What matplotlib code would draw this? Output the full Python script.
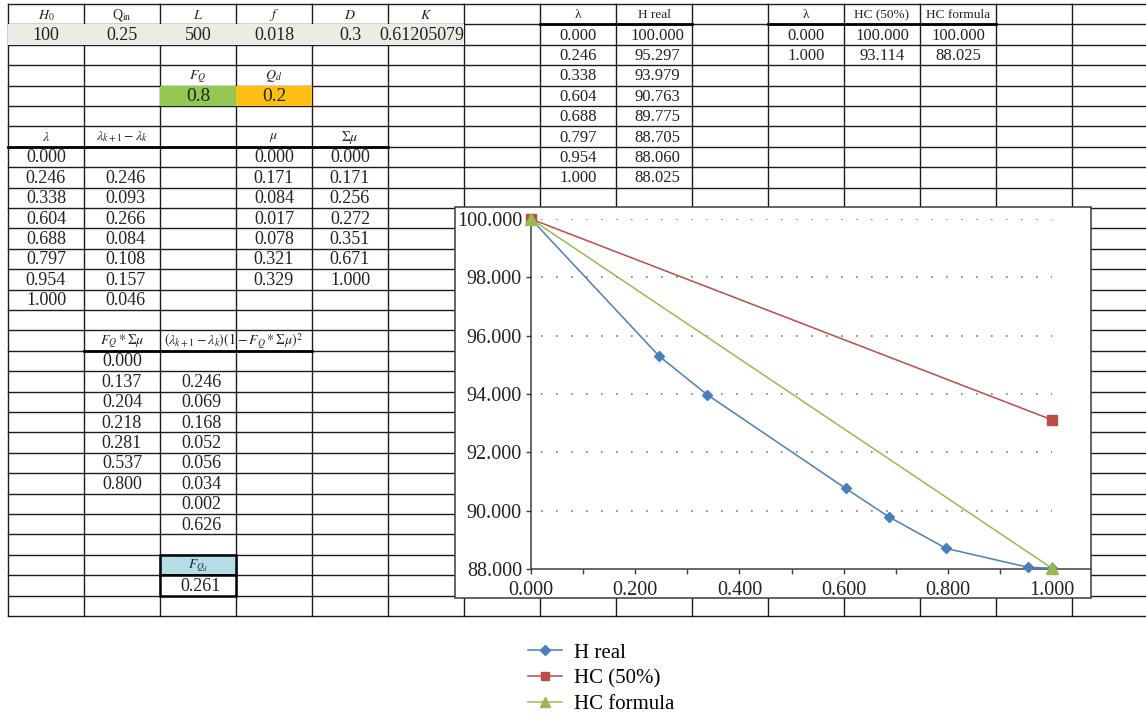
import matplotlib

matplotlib.use("Agg")
import matplotlib.pyplot as plt
from matplotlib.patches import Rectangle

plt.rcParams["font.family"] = ["Liberation Serif", "DejaVu Serif"]
plt.rcParams["mathtext.fontset"] = "stix"

# input parameters
param_names = [r"$H_0$", r"Q$_{\mathrm{in}}$", r"$L$", r"$f$", r"$D$", r"$K$"]
param_values = ["100", "0.25", "500", "0.018", "0.3", "0.61205079"]
f_q = 0.8
q_d = 0.2

# sheet columns
lam = [0.000, 0.246, 0.338, 0.604, 0.688, 0.797, 0.954, 1.000]
d_lam = [0.246, 0.093, 0.266, 0.084, 0.108, 0.157, 0.046]
mu = [0.000, 0.171, 0.084, 0.017, 0.078, 0.321, 0.329]
sum_mu = [0.000, 0.171, 0.256, 0.272, 0.351, 0.671, 1.000]
fq_sum_mu = [0.000, 0.137, 0.204, 0.218, 0.281, 0.537, 0.800]
term = [0.246, 0.069, 0.168, 0.052, 0.056, 0.034, 0.002]
term_total = 0.626
f_qd = 0.261

# chart series
h_real = [100.000, 95.297, 93.979, 90.763, 89.775, 88.705, 88.060, 88.025]
lam_hc = [0.000, 1.000]
hc_50 = [100.000, 93.114]
hc_formula = [100.000, 88.025]

W, H = 1146, 717
TOP, ROW_H = 4.0, 20.4
LEFT, COL_W = 8.0, 76.0
N_ROWS, N_COLS = 30, 15
LINE = "#1c1c1c"

fig = plt.figure(figsize=(W / 100, H / 100), dpi=100)
sheet = fig.add_axes([0, 0, 1, 1])
sheet.set_xlim(0, W)
sheet.set_ylim(H, 0)
sheet.axis("off")


def rx(c):
    return LEFT + COL_W * c


def ry(r):
    return TOP + ROW_H * r


def cell_text(c, r, s, size=13, dx=0, ha="center", **kw):
    sheet.text(rx(c) + COL_W / 2 + dx, ry(r) + ROW_H / 2 + 1, s, fontsize=size,
               ha=ha, va="center", color="#222222", zorder=4, **kw)


def fill_cell(c, r, color, ncols=1, ec="none", lw=0):
    sheet.add_patch(Rectangle((rx(c), ry(r)), COL_W * ncols, ROW_H, facecolor=color,
                              edgecolor=ec, linewidth=lw, zorder=3))


# grid
bottom = ry(N_ROWS)
for k in range(N_ROWS + 1):
    sheet.plot([LEFT, W], [ry(k), ry(k)], color=LINE, lw=1.0, zorder=2)
for j in range(N_COLS + 1):
    sheet.plot([rx(j), rx(j)], [TOP, bottom], color=LINE, lw=1.0, zorder=2)

# heavier rules under the headers
for c0, c1, k in [(0, 5, 7), (7, 9, 1), (10, 13, 1), (1, 4, 17)]:
    sheet.plot([rx(c0), rx(c1)], [ry(k), ry(k)], color="#000000", lw=2.0, zorder=2.5)

# parameter block
fill_cell(0, 1, "#edebe3", ncols=6)
for i, (name, val) in enumerate(zip(param_names, param_values)):
    cell_text(i, 0, name, size=10)
    cell_text(i, 1, val, size=13, dx=-4 if i == 5 else 0)

cell_text(2, 3, r"$F_Q$", size=10)
cell_text(3, 3, r"$Q_d$", size=10)
fill_cell(2, 4, "#92c851")
fill_cell(3, 4, "#fdbf11")
cell_text(2, 4, f"{f_q:g}", size=14)
cell_text(3, 4, f"{q_d:g}", size=14)

# lambda / mu block
cell_text(0, 6, r"$\lambda$", size=10)
cell_text(1, 6, r"$\lambda_{k+1} - \lambda_k$", size=10)
cell_text(3, 6, r"$\mu$", size=10)
cell_text(4, 6, r"$\Sigma\mu$", size=10)
for i, v in enumerate(lam):
    cell_text(0, 7 + i, f"{v:.3f}")
for i, v in enumerate(d_lam):
    cell_text(1, 8 + i, f"{v:.3f}", dx=3)
for i, v in enumerate(mu):
    cell_text(3, 7 + i, f"{v:.3f}")
for i, v in enumerate(sum_mu):
    cell_text(4, 7 + i, f"{v:.3f}")

# F_Q * sum(mu) block
cell_text(1, 16, r"$F_Q * \Sigma\mu$", size=10)
sheet.text(rx(2) + 4, ry(16) + ROW_H / 2 + 1,
           r"$(\lambda_{k+1} - \lambda_k)(1 - F_Q * \Sigma\mu)^2$",
           fontsize=10, ha="left", va="center", color="#222222", zorder=4)
for i, v in enumerate(fq_sum_mu):
    cell_text(1, 17 + i, f"{v:.3f}")
for i, v in enumerate(term):
    cell_text(2, 18 + i, f"{v:.3f}", dx=3)
cell_text(2, 25, f"{term_total:.3f}", dx=3)

fill_cell(2, 27, "#b5dde8", ec="#000000", lw=1.8)
fill_cell(2, 28, "#ffffff", ec="#000000", lw=1.8)
cell_text(2, 27, r"$F_{Q_d}$", size=9.5)
cell_text(2, 28, f"{f_qd:.3f}", dx=3)

# result tables
cell_text(7, 0, "λ", size=9.5)
cell_text(8, 0, "H real", size=9.5)
for i, (a, b) in enumerate(zip(lam, h_real)):
    cell_text(7, 1 + i, f"{a:.3f}", size=12)
    cell_text(8, 1 + i, f"{b:.3f}", size=12, dx=3)

cell_text(10, 0, "λ", size=9.5)
cell_text(11, 0, "HC (50%)", size=9.5)
cell_text(12, 0, "HC formula", size=9.5)
for i in range(len(lam_hc)):
    cell_text(10, 1 + i, f"{lam_hc[i]:.3f}", size=12)
    cell_text(11, 1 + i, f"{hc_50[i]:.3f}", size=12)
    cell_text(12, 1 + i, f"{hc_formula[i]:.3f}", size=12)

# embedded chart frame
frame = (455, 207, 1091, 598)
sheet.add_patch(Rectangle((frame[0], frame[1]), frame[2] - frame[0], frame[3] - frame[1],
                          facecolor="white", edgecolor="#3a3a3a", linewidth=1.1, zorder=5))

x0_px, x1_px = 531, 1052
y_top, y_bot = 219, 569
x_max = 1.0 + (frame[2] - x1_px) / (x1_px - x0_px)
ax = fig.add_axes([x0_px / W, 1 - y_bot / H, (frame[2] - x0_px) / W, (y_bot - y_top) / H])
ax.set_facecolor("none")
ax.set_xlim(0, x_max)
ax.set_ylim(88, 100)
for side in ("top", "right"):
    ax.spines[side].set_visible(False)
for side in ("left", "bottom"):
    ax.spines[side].set_color("#3f3f3f")
    ax.spines[side].set_linewidth(1.1)

yticks = [88, 90, 92, 94, 96, 98, 100]
ax.set_yticks(yticks)
ax.set_yticklabels([f"{v:.3f}" for v in yticks])
xticks = [0.0, 0.2, 0.4, 0.6, 0.8, 1.0]
ax.set_xticks(xticks)
ax.set_xticklabels([f"{v:.3f}" for v in xticks])
ax.set_xticks([0.1, 0.3, 0.5, 0.7, 0.9], minor=True)
ax.tick_params(axis="both", which="both", direction="out", length=3.5, width=1.0,
               color="#3f3f3f", labelsize=14.5, labelcolor="#222222")
ax.tick_params(axis="x", pad=5)
ax.tick_params(axis="y", pad=3)

ax.hlines(yticks[1:], 0.02, 1.0, colors="#7c7c7c", linestyles=(0, (1, 8)), linewidth=1.2, zorder=1)

ax.plot(lam, h_real, color="#4a7ebb", lw=1.1, marker="D", ms=5.5, clip_on=False,
        label="H real", zorder=3)
ax.plot(lam_hc, hc_50, color="#be4b48", lw=1.1, marker="s", ms=7, clip_on=False,
        label="HC (50%)", zorder=4)
ax.plot(lam_hc, hc_formula, color="#98b954", lw=1.1, marker="^", ms=8, clip_on=False,
        label="HC formula", zorder=5)

handles, labels = ax.get_legend_handles_labels()
fig.legend(handles, labels, loc="upper left", bbox_to_anchor=(528 / W, 1 - 643 / H),
           frameon=False, fontsize=15, handlelength=1.65, handletextpad=0.55,
           labelspacing=0.3, borderpad=0, borderaxespad=0, markerscale=0.85)

fig.savefig("out.png", dpi=100)
